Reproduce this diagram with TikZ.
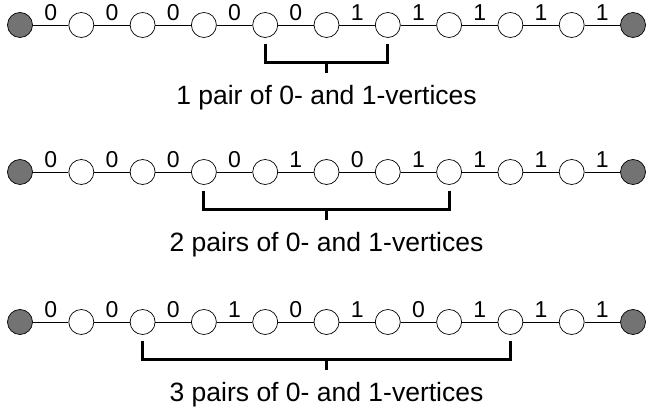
\documentclass[tikz,border=0pt]{standalone}
\usepackage{fontspec}
\setmainfont{Liberation Sans}
\usetikzlibrary{calc}
\newcommand\bitfont{\fontsize{23}{26}\selectfont}
\begin{document}
\begin{tikzpicture}[x=1pt,y=-1pt,
  vert/.style={circle,draw,line width=0.7pt,fill=white,minimum size=25pt,inner sep=0pt},
  endvert/.style={vert,fill=black!55},
  bit/.style={inner sep=0pt},
  bracket/.style={line width=3pt},
  caption/.style={font=\fontsize{26.5}{30}\selectfont,inner sep=0pt,anchor=base}]
  \useasboundingbox (0,0) rectangle (649,411);
  \foreach \r/\y/\bits/\lo/\hi/\txt in {
    1/25/{0,0,0,0,0,1,1,1,1,1}/4/6/{1 pair of 0- and 1-vertices},
    2/172/{0,0,0,0,1,0,1,1,1,1}/3/7/{2 pairs of 0- and 1-vertices},
    3/322/{0,0,0,1,0,1,0,1,1,1}/2/8/{3 pairs of 0- and 1-vertices}}{
    % path of vertices
    \node[endvert] (r\r-0) at (20,\y) {};
    \node[endvert] (r\r-10) at (633,\y) {};
    \foreach \i in {1,...,9} \node[vert] (r\r-\i) at (20+61.3*\i,\y) {};
    \foreach \b [count=\j] in \bits {
      \pgfmathtruncatemacro\i{\j-1}
      \draw[line width=0.7pt] (r\r-\i) -- (r\r-\j) node[bit,midway,above=4pt] {\bitfont\b};
    }
    % bracket under the pairs
    \coordinate (m\r) at ($(r\r-\lo)!0.5!(r\r-\hi)$);
    \draw[bracket] ([yshift=-6pt]r\r-\lo.south) -- ++(0,19) -| ([yshift=-6pt]r\r-\hi.south);
    \draw[bracket] ([yshift=-37.5pt]m\r) -- ++(0,11) coordinate (t\r);
    \node[caption] (c\r) at ($(m\r)+(0,80)$) {\txt};
  }
\end{tikzpicture}
\end{document}
